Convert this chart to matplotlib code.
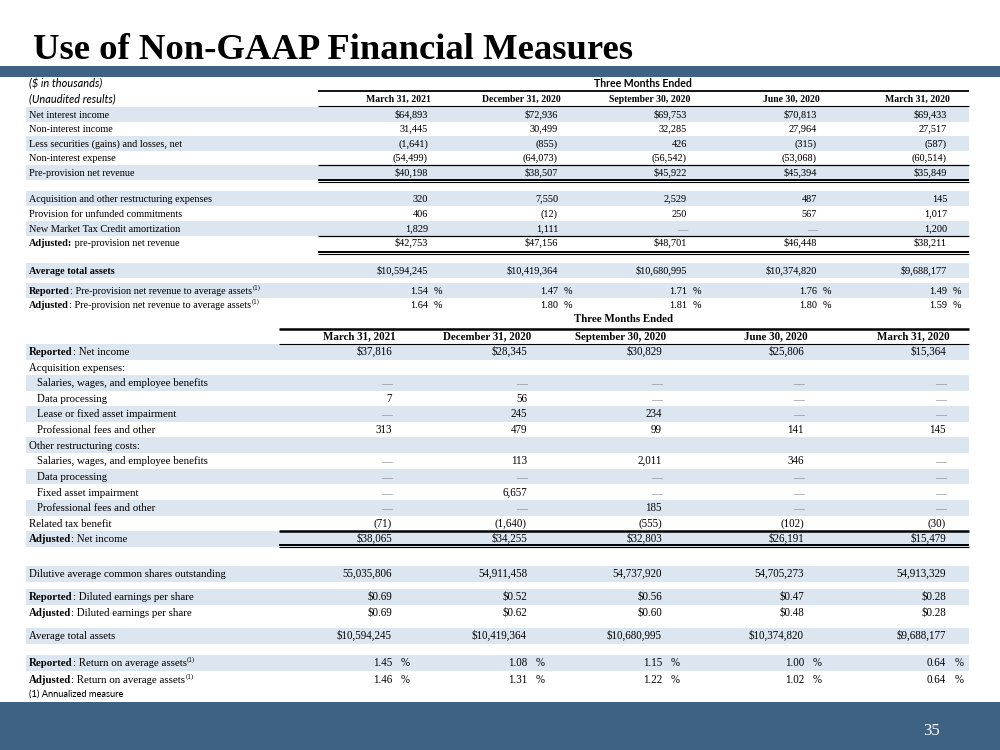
import matplotlib
matplotlib.use("Agg")
import matplotlib.pyplot as plt
from matplotlib.patches import Rectangle

plt.rcParams["text.hinting"] = "native"

# ---------------- data ----------------
title = "Use of Non-GAAP Financial Measures"
periods = ["March 31, 2021", "December 31, 2020", "September 30, 2020", "June 30, 2020", "March 31, 2020"]

net_interest_income = ["$64,893", "$72,936", "$69,753", "$70,813", "$69,433"]
non_interest_income = ["31,445", "30,499", "32,285", "27,964", "27,517"]
securities_gains_losses = ["(1,641)", "(855)", "426", "(315)", "(587)"]
non_interest_expense = ["(54,499)", "(64,073)", "(56,542)", "(53,068)", "(60,514)"]
pre_provision_net_revenue = ["$40,198", "$38,507", "$45,922", "$45,394", "$35,849"]
acq_restructuring_expenses = ["320", "7,550", "2,529", "487", "145"]
unfunded_commitments = ["406", "(12)", "250", "567", "1,017"]
nmtc_amortization = ["1,829", "1,111", "—", "—", "1,200"]
adjusted_ppnr = ["$42,753", "$47,156", "$48,701", "$46,448", "$38,211"]
average_total_assets = ["$10,594,245", "$10,419,364", "$10,680,995", "$10,374,820", "$9,688,177"]
ppnr_to_assets_reported = ["1.54", "1.47", "1.71", "1.76", "1.49"]
ppnr_to_assets_adjusted = ["1.64", "1.80", "1.81", "1.80", "1.59"]

net_income_reported = ["$37,816", "$28,345", "$30,829", "$25,806", "$15,364"]
acq_salaries = ["—", "—", "—", "—", "—"]
acq_data_processing = ["7", "56", "—", "—", "—"]
acq_lease_impairment = ["—", "245", "234", "—", "—"]
acq_professional_fees = ["313", "479", "99", "141", "145"]
rs_salaries = ["—", "113", "2,011", "346", "—"]
rs_data_processing = ["—", "—", "—", "—", "—"]
rs_fixed_asset_impairment = ["—", "6,657", "—", "—", "—"]
rs_professional_fees = ["—", "—", "185", "—", "—"]
related_tax_benefit = ["(71)", "(1,640)", "(555)", "(102)", "(30)"]
net_income_adjusted = ["$38,065", "$34,255", "$32,803", "$26,191", "$15,479"]
diluted_shares = ["55,035,806", "54,911,458", "54,737,920", "54,705,273", "54,913,329"]
eps_reported = ["$0.69", "$0.52", "$0.56", "$0.47", "$0.28"]
eps_adjusted = ["$0.69", "$0.62", "$0.60", "$0.48", "$0.28"]
roa_reported = ["1.45", "1.08", "1.15", "1.00", "0.64"]
roa_adjusted = ["1.46", "1.31", "1.22", "1.02", "0.64"]

# ---------------- style ----------------
BLUE = "#3e6283"
SHADE = "#dce6f1"
SERIF = "Liberation Serif"
SANS = "Lato"
BL = 3.4  # baseline offset from row centre (px)

fig = plt.figure(figsize=(10, 7.5), dpi=100)
ax = fig.add_axes([0, 0, 1, 1])
ax.set_xlim(0, 1000)
ax.set_ylim(750, 0)
ax.axis("off")
renderer = fig.canvas.get_renderer()

# bands
ax.add_patch(Rectangle((0, 66), 1000, 11, color=BLUE, lw=0))
ax.add_patch(Rectangle((0, 702), 1000, 48, color=BLUE, lw=0))
ax.text(33, 59, title, fontsize=26.4, fontweight="bold", family=SERIF, va="baseline", ha="left", color="black")
ax.text(932, 735, "35", fontsize=12, family=SERIF, color="white", ha="center", va="baseline")

X0, X1 = 26, 969
LX, LXI = 29, 37


def shade(y, h):
    ax.add_patch(Rectangle((X0, y - h / 2), X1 - X0, h, color=SHADE, lw=0))


def rich(x, y, parts, fs):
    """parts: list of (text, kind) where kind in 'b', 'n', 'sup'"""
    for txt, kind in parts:
        if kind == "sup":
            t = ax.text(x + 0.5, y - 4, txt, fontsize=fs * 0.65, family=SERIF, va="baseline", ha="left")
        else:
            t = ax.text(x, y, txt, fontsize=fs, family=SERIF, va="baseline", ha="left",
                        fontweight="bold" if kind == "b" else "normal")
        bb = t.get_window_extent(renderer=renderer)
        x += bb.width


def row(y, label, values, cols, fs, shaded=False, h=14.5, indent=False, pct=False, pct_gap=6):
    if shaded:
        shade(y, h)
    if isinstance(label, str):
        label = [(label, "n")]
    yb = round(y + BL)
    rich(LXI if indent else LX, yb, label, fs)
    if values is None:
        return
    for v, xr in zip(values, cols):
        color = "#808080" if v == "—" else "black"
        ax.text(xr, yb, v, fontsize=fs, family=SERIF, va="baseline", ha="right", color=color)
        if pct:
            ax.text(xr + pct_gap, yb, "%", fontsize=fs, family=SERIF, va="baseline", ha="left")


def hline(y, x0, lw=0.8):
    ax.plot([x0, X1], [y, y], color="black", lw=lw, solid_capstyle="butt")


# ---------------- top table ----------------
F1 = 7.4
C1 = [428, 558, 687, 817, 947]
ax.text(LX, 87, "($ in thousands)", fontsize=7.9, family=SANS, style="italic", va="baseline")
ax.text(643, 87, "Three Months Ended", fontsize=7.6, family=SANS, fontweight="bold", va="baseline", ha="center")
ax.text(LX, 102, "(Unaudited results)", fontsize=7.9, family=SANS, style="italic", va="baseline")
hline(91, 318, lw=1.3)
for p, xr in zip(periods, C1):
    ax.text(xr + 3, 102, p, fontsize=7.0, family=SERIF, fontweight="bold", va="baseline", ha="right")
hline(106, 318, lw=0.8)

row(114.5, "Net interest income", net_interest_income, C1, F1, shaded=True)
row(129, "Non-interest income", non_interest_income, C1, F1)
row(143.5, "Less securities (gains) and losses, net", securities_gains_losses, C1, F1, shaded=True)
row(158, "Non-interest expense", non_interest_expense, C1, F1)
row(172.5, "Pre-provision net revenue", pre_provision_net_revenue, C1, F1, shaded=True)
hline(165.2, 318, lw=0.9)
hline(179.6, 318, lw=1.4)
hline(181.8, 318, lw=0.8)

row(198.5, "Acquisition and other restructuring expenses", acq_restructuring_expenses, C1, F1, shaded=True)
row(213.5, "Provision for unfunded commitments", unfunded_commitments, C1, F1)
row(228.5, "New Market Tax Credit amortization", nmtc_amortization, C1, F1, shaded=True)
row(243, [("Adjusted:", "b"), (" pre-provision net revenue", "n")], adjusted_ppnr, C1, F1)
hline(235.8, 318, lw=0.9)
hline(251.6, 318, lw=1.4)
hline(253.8, 318, lw=0.8)

row(270.3, [("Average total assets", "b")], average_total_assets, C1, F1, shaded=True, h=15)
row(290.3, [("Reported", "b"), (": Pre-provision net revenue to average assets", "n"), ("(1)", "sup")],
    ppnr_to_assets_reported, C1, F1, shaded=True, h=15, pct=True)
row(305, [("Adjusted", "b"), (": Pre-provision net revenue to average assets", "n"), ("(1)", "sup")],
    ppnr_to_assets_adjusted, C1, F1, pct=True)

# ---------------- second table ----------------
F2 = 7.8
C2 = [392, 527, 662, 804, 946]
ax.text(623, 322, "Three Months Ended", fontsize=7.8, family=SERIF, fontweight="bold", va="baseline", ha="center")
hline(329, 279, lw=1.8)
for p, xr in zip(periods, C2):
    ax.text(xr + 4, 340, p, fontsize=7.8, family=SERIF, fontweight="bold", va="baseline", ha="right")
hline(344.3, 279, lw=0.8)

P = 15.6
y0 = 351.7
rows2 = [
    ([("Reported", "b"), (": Net income", "n")], net_income_reported, False),
    ("Acquisition expenses:", None, False),
    ("Salaries, wages, and employee benefits", acq_salaries, True),
    ("Data processing", acq_data_processing, True),
    ("Lease or fixed asset impairment", acq_lease_impairment, True),
    ("Professional fees and other", acq_professional_fees, True),
    ("Other restructuring costs:", None, False),
    ("Salaries, wages, and employee benefits", rs_salaries, True),
    ("Data processing", rs_data_processing, True),
    ("Fixed asset impairment", rs_fixed_asset_impairment, True),
    ("Professional fees and other", rs_professional_fees, True),
    ("Related tax benefit", related_tax_benefit, False),
    ([("Adjusted", "b"), (": Net income", "n")], net_income_adjusted, False),
]
for i, (lab, vals, ind) in enumerate(rows2):
    row(y0 + i * P, lab, vals, C2, F2, shaded=(i % 2 == 0), h=P, indent=ind)
hline(531, 279, lw=1.8)
hline(545, 279, lw=1.4)
hline(547.3, 279, lw=0.8)

row(573.5, "Dilutive average common shares outstanding", diluted_shares, C2, F2, shaded=True, h=16)
row(596.5, [("Reported", "b"), (": Diluted earnings per share", "n")], eps_reported, C2, F2, shaded=True, h=16)
row(612.5, [("Adjusted", "b"), (": Diluted earnings per share", "n")], eps_adjusted, C2, F2)
row(635.5, "Average total assets", average_total_assets, C2, F2, shaded=True, h=16)
row(662.5, [("Reported", "b"), (": Return on average assets", "n"), ("(1)", "sup")], roa_reported, C2, F2,
    shaded=True, h=16, pct=True, pct_gap=9)
row(679.5, [("Adjusted", "b"), (": Return on average assets", "n"), ("(1)", "sup")], roa_adjusted, C2, F2,
    pct=True, pct_gap=9)
ax.text(LX, 697, "(1) Annualized measure", fontsize=6.7, family=SANS, va="baseline", ha="left")

fig.savefig("out.png", dpi=100)
